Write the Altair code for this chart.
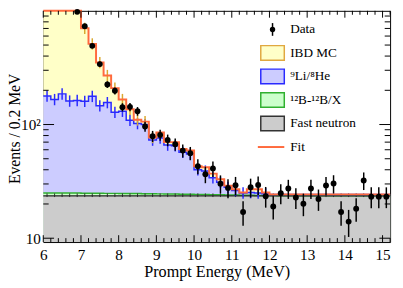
import altair as alt
import numpy as np
import pandas as pd

# ---------------- data ----------------
edges = [round(6.0 + 0.2 * k, 1) for k in range(47)]  # 46 bins of 0.2 MeV

# stacked tops per bin
fit_total = [2400, 2050, 1700, 1400, 1150, 702, 512, 351, 270, 209,
             166, 136, 110, 106, 77, 85, 70, 70, 61, 59,
             43, 42, 37, 33, 29, 27, 25.2, 27, 27, 25.2,
             24.3, 24.3, 24.3, 24.3, 24.3, 24.3, 24.3, 24.3, 24.3, 24.3,
             24.3, 24.3, 24.3, 24.3, 24.3, 24.3]
li_he_top = [178, 166, 186, 161, 163, 160, 177, 146, 156, 128,
             131, 109, 102, 100, 73, 76, 66, 65, 57, 55,
             40, 39, 34, 31, 28, 26.3, 25, 25.2, 25, 24.6,
             24.2, 24.2, 24.2, 24.2, 24.2, 24.2, 24.2, 24.2, 24.2, 24.2,
             24.2, 24.2, 24.2, 24.2, 24.2, 24.2]
b12_top = [25.0, 25.0, 25.0, 24.95, 24.95, 24.9, 24.9, 24.85, 24.8, 24.8,
           24.75, 24.7, 24.7, 24.65, 24.6, 24.55, 24.5, 24.45, 24.4, 24.35,
           24.3, 24.2, 24.15, 24.1, 24.0, 23.95, 23.9, 23.85, 23.8, 23.75,
           23.7, 23.65, 23.6, 23.6, 23.6, 23.6, 23.6, 23.6, 23.6, 23.6,
           23.6, 23.6, 23.6, 23.6, 23.6, 23.6]
fast_n = [23.6] * 46

data_e = [6.9, 7.1, 7.3, 7.5, 7.7, 7.9, 8.1, 8.3, 8.5, 8.7,
          8.9, 9.1, 9.3, 9.5, 9.7, 9.9, 10.1, 10.3, 10.5, 10.7,
          10.9, 11.1, 11.3, 11.5, 11.7, 11.9, 12.1, 12.3, 12.5, 12.7,
          12.9, 13.1, 13.3, 13.5, 13.7, 13.9, 14.1, 14.3, 14.5, 14.7,
          14.9, 15.1]
data_n = [980, 731, 492, 340, 225, 198, 142, 143, 131, 96,
          79, 81, 73, 67, 59, 56, 43, 36.5, 41, 30.2,
          27.7, 29.2, 17.0, 28.1, 29.4, 23.4, 19.0, 24.9, 27.4, 22.8,
          20.1, 27.4, 22.1, 29.1, 30.3, 17.0, 14.0, 18.2, 32.2, 23.2,
          23.2, 23.2]

legend_labels = ["Data", "IBD MC", "⁹Li/⁸He", "¹²B-¹²B/X", "Fast neutron", "Fit"]
legend_fill = ["black", "#ffffc8", "#ccccff", "#ccffcc", "#cccccc", "#ff6a3d"]
legend_stroke = ["black", "#e0a840", "#2a2aff", "#30b030", "#333333", "#ff6a3d"]

x_major = [6, 7, 8, 9, 10, 11, 12, 13, 14, 15]
x_minor = [round(6 + 0.2 * k, 1) for k in range(47) if k % 5 != 0]
y_major = [10, 100]
y_minor = [20, 30, 40, 50, 60, 70, 80, 90, 200, 300, 400, 500, 600, 700, 800, 900]

# ---------------- layout / style ----------------
W, H = 354, 236
YMIN, YMAX = 9.25, 1000
FONT = "Liberation Serif"
ORANGE = "#ff6a3d"
BLUE = "#2a2aff"
GREEN = "#30b030"

xscale = alt.Scale(domain=[6, 15.2], nice=False, zero=False)
yscale = alt.Scale(type="log", domain=[YMIN, YMAX], nice=False, clamp=True)
xaxis = alt.Axis(values=x_major, title="Prompt Energy (MeV)", grid=False, ticks=False,
                 tickSize=0, domain=False, labelFont=FONT, labelFontSize=15.5,
                 labelPadding=6, labelColor="black", titleFont=FONT, titleFontSize=16.5,
                 titleFontWeight="normal", titleColor="black", titlePadding=1,
                 labelFlush=False)
yaxis = alt.Axis(values=y_major, title="Events / 0.2 MeV", grid=False, ticks=False,
                 tickSize=0, domain=False, labelFont=FONT, labelFontSize=15.5,
                 labelPadding=3, labelColor="black", titleFont=FONT, titleFontSize=16,
                 titleFontWeight="normal", titleColor="black", titleX=-21,
                 titleY=H / 2 + 2, titleBaseline="bottom", titleAngle=270,
                 labelExpr="datum.value == 100 ? '10²' : '10'", labelFlush=False)


def X(f):
    return alt.X(f, type="quantitative", scale=xscale, axis=xaxis)


def Y(f):
    return alt.Y(f, type="quantitative", scale=yscale, axis=yaxis)


def steps(vals):
    return pd.DataFrame({"e": edges, "v": list(vals) + [vals[-1]], "b": YMIN})


def area(vals, fill):
    return alt.Chart(steps(vals)).mark_area(interpolate="step-after", color=fill).encode(
        x=X("e"), y=Y("v"), y2=alt.Y2("b"))


def line(vals, color, w=1.5):
    return alt.Chart(steps(vals)).mark_line(interpolate="step-after", color=color,
                                            strokeWidth=w).encode(x=X("e"), y=Y("v"))


centers = [round(e + 0.1, 1) for e in edges[:-1]]

blue_err = pd.DataFrame({"c": centers, "lo": [v * 0.89 for v in li_he_top],
                         "hi": [v * 1.12 for v in li_he_top]}).iloc[:30]
ibd_idx = list(range(5, 15))
ibd_err = pd.DataFrame({"c": [centers[i] for i in ibd_idx],
                        "lo": [fit_total[i] * 0.89 for i in ibd_idx],
                        "hi": [fit_total[i] * 1.12 for i in ibd_idx]})
fn_err = pd.DataFrame({"c": centers, "lo": [v * 0.975 for v in fast_n],
                       "hi": [v * 1.05 for v in fast_n]})

dd = pd.DataFrame({"e": data_e, "n": data_n})
dd["lo"] = dd["n"] - np.sqrt(dd["n"])
dd["hi"] = dd["n"] + np.sqrt(dd["n"])


def errbars(df, color, w=1.5):
    return alt.Chart(df).mark_rule(color=color, strokeWidth=w).encode(
        x=X("c"), y=Y("lo"), y2=alt.Y2("hi"))


layers = [
    area(fit_total, "#ffffc8"),
    area(li_he_top, "#ccccff"),
    area(b12_top, "#ccffcc"),
    area(fast_n, "#cccccc"),
    line(b12_top, GREEN, 1.5),
    errbars(fn_err, "#333333", 1),
    line(fast_n, "#222222", 1.2),
    line(li_he_top, BLUE, 1.5),
    errbars(blue_err, BLUE, 1.5),
    errbars(ibd_err, "#d9a830", 1.5),
    line(fit_total, ORANGE, 2),
    alt.Chart(dd).mark_rule(color="black", strokeWidth=1.5).encode(
        x=X("e"), y=Y("lo"), y2=alt.Y2("hi")),
    alt.Chart(dd).mark_circle(color="black", size=36, opacity=1).encode(
        x=X("e"), y=Y("n")),
]

# tick marks pointing inside the frame
ymaj = pd.DataFrame({"v": y_major})
ymin_ = pd.DataFrame({"v": y_minor})
xmaj = pd.DataFrame({"v": x_major})
xmin_ = pd.DataFrame({"v": x_minor})
for df, L in [(ymaj, 11), (ymin_, 5.5)]:
    layers.append(alt.Chart(df).mark_rule(color="black", strokeWidth=1).encode(
        x=alt.value(0), x2=alt.value(L), y=Y("v")))
    layers.append(alt.Chart(df).mark_rule(color="black", strokeWidth=1).encode(
        x=alt.value(W), x2=alt.value(W - L), y=Y("v")))
for df, L in [(xmaj, 7), (xmin_, 4)]:
    layers.append(alt.Chart(df).mark_rule(color="black", strokeWidth=1).encode(
        x=X("v"), y=alt.value(H), y2=alt.value(H - L)))
    layers.append(alt.Chart(df).mark_rule(color="black", strokeWidth=1).encode(
        x=X("v"), y=alt.value(0), y2=alt.value(L)))

# legend (drawn inside the frame, top right)
leg = pd.DataFrame({"label": legend_labels, "fill": legend_fill, "stroke": legend_stroke})
leg["yc"] = [19 + 24 * i for i in range(len(leg))]
leg["yt"] = leg["yc"] - 7.5
leg["yb"] = leg["yc"] + 7.5
leg["ya"] = leg["yc"] - 6.5
leg["yz"] = leg["yc"] + 6.5
boxes = leg.iloc[1:5]
layers += [
    alt.Chart(boxes).mark_rect(strokeWidth=1.5).encode(
        x=alt.value(222), x2=alt.value(246),
        y=alt.Y("yt:Q", scale=None), y2=alt.Y2("yb:Q"),
        fill=alt.Fill("fill:N", scale=None), stroke=alt.Stroke("stroke:N", scale=None)),
    alt.Chart(leg.iloc[[0]]).mark_rule(color="black", strokeWidth=1.5).encode(
        x=alt.value(234), y=alt.Y("ya:Q", scale=None), y2=alt.Y2("yz:Q")),
    alt.Chart(leg.iloc[[0]]).mark_circle(color="black", size=30, opacity=1).encode(
        x=alt.value(234), y=alt.Y("yc:Q", scale=None)),
    alt.Chart(leg.iloc[[5]]).mark_rule(color=ORANGE, strokeWidth=2).encode(
        x=alt.value(219), x2=alt.value(246), y=alt.Y("yc:Q", scale=None)),
    alt.Chart(leg).mark_text(align="left", baseline="middle", font=FONT, fontSize=13.5,
                             color="black").encode(
        x=alt.value(252), y=alt.Y("yc:Q", scale=None), text="label:N"),
]

chart = alt.layer(*layers).properties(
    width=W, height=H,
    autosize=alt.AutoSizeParams(type="none"),
    padding={"left": 36, "top": 0, "right": 5, "bottom": 44},
    background="white",
).configure_view(stroke="black", strokeWidth=1)

chart.save("out.html", embed_options={"renderer": "svg", "actions": False})
